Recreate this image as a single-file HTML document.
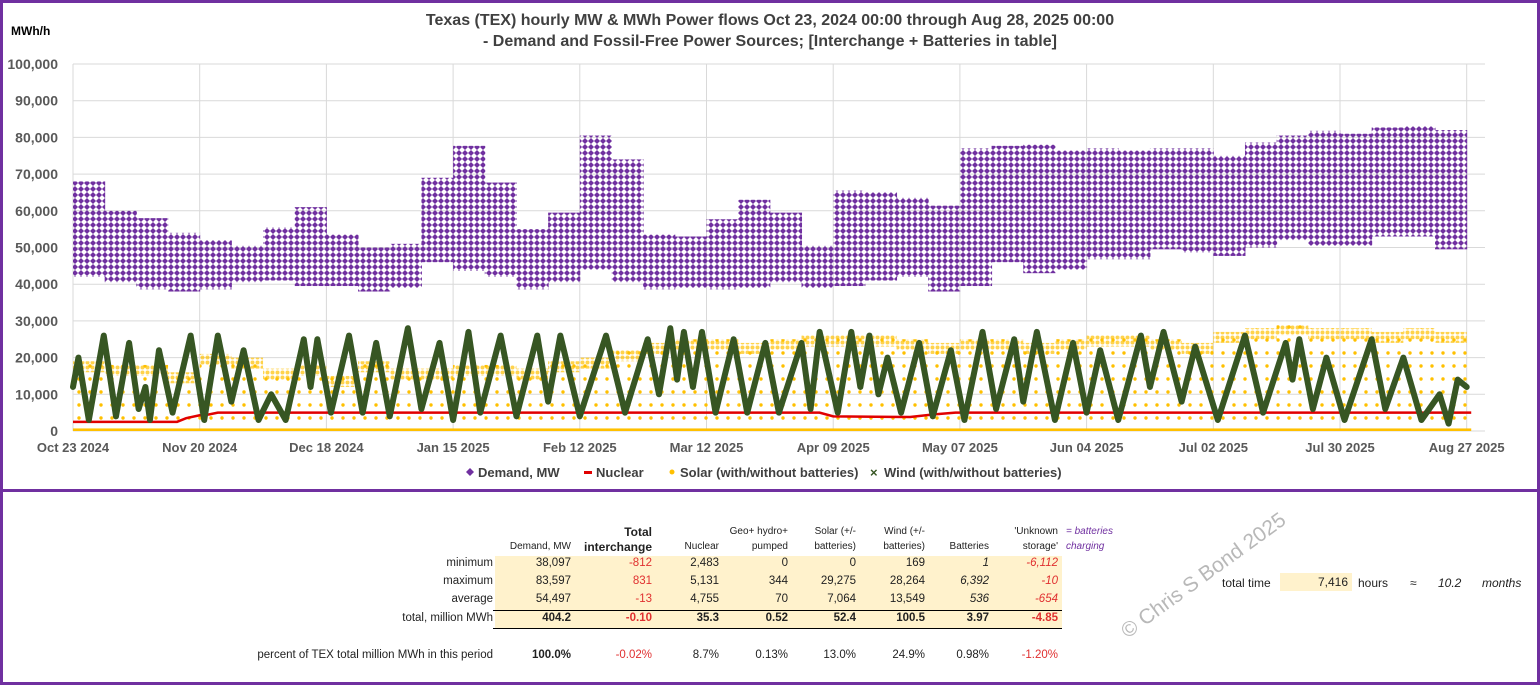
<!DOCTYPE html>
<html><head><meta charset="utf-8">
<style>
body{margin:0;width:1540px;height:685px;overflow:hidden;background:#fff;font-family:"Liberation Sans",sans-serif;}
#wrap{position:relative;width:1540px;height:685px;}
.t{position:absolute;font-size:11px;color:#222;white-space:nowrap;}
.r{text-align:right;}
.red{color:#e03030;}
.b{font-weight:bold;}
</style></head><body>
<div id="wrap">
<svg id="chart" width="1540" height="492" style="position:absolute;left:0;top:0" xmlns="http://www.w3.org/2000/svg">
<defs>
<pattern id="pd" width="6" height="6" patternUnits="userSpaceOnUse"><polygon points="3,0 6,3 3,6 0,3" fill="#7030a0"/></pattern>
<pattern id="ps" width="11" height="13" patternUnits="userSpaceOnUse"><circle cx="2" cy="2" r="1.7" fill="#ffc000"/></pattern>
<pattern id="ps2" width="5" height="5" patternUnits="userSpaceOnUse"><circle cx="2.5" cy="2.5" r="2" fill="#ffc000"/></pattern>
</defs>
<rect x="1.5" y="1.5" width="1537" height="489" fill="none" stroke="#7030a0" stroke-width="3"/>
<text x="770" y="25" text-anchor="middle" font-size="16" font-weight="bold" fill="#404040">Texas (TEX) hourly MW &amp; MWh Power flows Oct 23, 2024 00:00 through Aug 28, 2025 00:00</text>
<text x="770" y="46" text-anchor="middle" font-size="16" font-weight="bold" fill="#404040">- Demand and Fossil-Free Power Sources;  [Interchange + Batteries in table]</text>
<text x="11" y="35" font-size="12" font-weight="bold" fill="#000">MWh/h</text>
<g id="grid"></g>
<g id="marks"></g>
<g id="axes"></g>
<g id="legend">
<g><polygon points="470,468 474,472 470,476 466,472" fill="#7030a0"/><text x="478" y="477" font-size="13" font-weight="bold" fill="#404040">Demand, MW</text></g>
<g><rect x="584" y="471" width="8" height="3" fill="#e00000"/><text x="596" y="477" font-size="13" font-weight="bold" fill="#404040">Nuclear</text></g>
<g><circle cx="672" cy="472" r="2.5" fill="#ffc000"/><text x="680" y="477" font-size="13" font-weight="bold" fill="#404040">Solar (with/without batteries)</text></g>
<g><text x="870" y="477" font-size="13" font-weight="bold" fill="#375623">×</text><text x="884" y="477" font-size="13" font-weight="bold" fill="#404040">Wind (with/without  batteries)</text></g>
</g>
</svg>
<div style="position:absolute;left:0;top:490px;width:1534px;height:192px;border:3px solid #7030a0;border-top:none;"></div>
<div style="position:absolute;left:495px;top:556px;width:567px;height:73px;background:#fff2cc;"></div>
<div style="position:absolute;left:493px;top:610px;width:569px;height:1px;background:#000;"></div>
<div style="position:absolute;left:493px;top:628px;width:569px;height:1px;background:#000;"></div>
<div id="tbl"></div>
<div class="t" style="left:1222px;top:576px;font-size:12px">total time</div>
<div class="t r" style="left:1280px;top:573px;width:68px;height:18px;line-height:18px;background:#fff2cc;padding-right:4px;font-size:12px">7,416</div>
<div class="t" style="left:1358px;top:576px;font-size:12px">hours</div>
<div class="t" style="left:1410px;top:576px;font-size:12px">≈</div>
<div class="t" style="left:1438px;top:576px;font-size:12px;font-style:italic">10.2</div>
<div class="t" style="left:1482px;top:576px;font-size:12px;font-style:italic">months</div>
<div class="t" style="left:1124px;top:622px;font-size:21px;color:#b8b8b8;transform:rotate(-36deg);transform-origin:left center">© Chris S Bond  2025</div>
</div>
<script>
const NS="http://www.w3.org/2000/svg";
// ---- data ----
const yTicks=[0,10000,20000,30000,40000,50000,60000,70000,80000,90000,100000];
const xTickDays=[0,28,56,84,112,140,168,196,224,252,280,308];
const xTickLabels=["Oct 23 2024","Nov 20 2024","Dec 18 2024","Jan 15 2025","Feb 12 2025","Mar 12 2025","Apr 09 2025","May 07 2025","Jun 04 2025","Jul 02 2025","Jul 30 2025","Aug 27 2025"];
const demandLow=[42,40.5,38.6,38,38.6,40.5,41,39.5,39.5,38,39,46,43.6,42,38.6,40.5,44,40.5,38.6,39,38.6,39,40.5,39,39.5,41,42,38,39.5,46,43,44,46.8,46.8,49.5,48.6,47.7,50,52,50.5,50.5,53,53,49.5];
const demandHigh=[68,60,58,54,52,50.5,55.5,61,53.5,50,51,69,77.7,67.7,55,59.5,80.5,74,53.5,53,57.7,63,59.5,50.5,65.5,65,63.6,61.4,77,77.7,78,76.4,77,76.4,77,77,75,78.6,80.5,81.8,81,82.7,83,82];
const solarPeak=[19,18,18,16,21,20,17,18,15,19,17,17,18,18,17,19,20,22,24,25,25,24,25,26,26,26,25,24,25,25,24,25,26,26,25,24,27,28,29,28,28,27,28,27];
const windDays=[0,1.2,3.5,6.8,9.5,12.4,14.5,16,17,19,22,26,29,32,35,37.7,41,43.8,47,51,52.5,54,57,61,64,67,70,74,77,81,84,87.4,90,94.5,98,102.6,105,107.7,112,117.8,122,127,129.5,132,133.5,135,137,139,142,146,149,153,156,161,163,165,169,172,174,176,178,180,183,187,190,194,197,201,204,208,210,213,217,221,224,227,231,236,238,241,245,248,253,259,263,268,269.5,271,274,277,281,287,290,294,298,302,304,306,308];
const windVals=[12,20,3,26,4,24,6,12,3,22,5,26,3,26,8,22,3,10,3,25,12,25,5,26,5,24,4,28,6,24,3,27,5,26,4,26,8,26,4,26,5,25,10,28,14,27,12,27,5,25,5,24,5,24,6,27,5,27,12,26,10,20,5,24,4,22,3,27,6,25,8,27,3,24,5,22,3,26,12,27,8,23,3,26,5,24,14,25,6,20,3,25,6,20,3,10,2,14,12];
const nucDays=[0,23,25,28,30,32,165,168,185,190,195,309];
const nucVals=[2500,2500,3500,4300,4500,5000,5000,4000,3800,4500,5000,5000];
// ---- axes ----
const X0=73,PXDAY=126.7/28;
function xDay(d){return X0+d*PXDAY;}
function yv(v){return 431-v*0.00367;}
const WEEK=7;
const grid=document.getElementById('grid'),marks=document.getElementById('marks'),axes=document.getElementById('axes');
function mk(tag,attrs,parent){const e=document.createElementNS(NS,tag);for(const k in attrs)e.setAttribute(k,attrs[k]);parent.appendChild(e);return e;}
yTicks.forEach(v=>{
  const l=mk('line',{x1:X0,x2:1485,y1:yv(v),y2:yv(v),stroke:'#d9d9d9','stroke-width':1},grid);
  
  
  const t=mk('text',{x:58,y:yv(v)+5,'text-anchor':'end','font-size':14,'font-weight':'bold',fill:'#595959'},axes);
  t.textContent=v.toLocaleString('en-US');
  
  
});
xTickDays.forEach((d,i)=>{
  const l=mk('line',{x1:xDay(d),x2:xDay(d),y1:yv(100000),y2:yv(0),stroke:'#d9d9d9','stroke-width':1},grid);
  
  
  const t=mk('text',{x:xDay(d),y:452,'text-anchor':'middle','font-size':13,'font-weight':'bold',fill:'#595959'},axes);
  t.textContent=xTickLabels[i];
  
  
});
// demand band
demandLow.forEach((lo,i)=>{
  const hi=demandHigh[i];
  const r=mk('rect',{x:xDay(i*WEEK),width:PXDAY*WEEK+0.5,y:yv(hi*1000),height:yv(lo*1000)-yv(hi*1000),fill:'url(#pd)'},marks);
  
  
});
// solar
solarPeak.forEach((p,i)=>{
  const r=mk('rect',{x:xDay(i*WEEK),width:PXDAY*WEEK,y:yv(p*1000),height:yv(0)-yv(p*1000),fill:'url(#ps)'},marks);
  
  
  const r2=mk('rect',{x:xDay(i*WEEK),width:PXDAY*WEEK,y:yv(p*1000),height:yv((p-3)*1000)-yv(p*1000),fill:'url(#ps2)',opacity:0.7},marks);
  
  
});
const sb=mk('rect',{x:X0,y:yv(700),width:xDay(309)-X0,height:yv(0)-yv(700),fill:'#ffc000'},marks);


// nuclear
const np=mk('polyline',{points:nucDays.map((d,i)=>xDay(d)+','+yv(nucVals[i])).join(' '),fill:'none',stroke:'#e00000','stroke-width':2.5},marks);


// wind
const wp=mk('polyline',{points:windDays.map((d,i)=>xDay(d)+','+yv(windVals[i]*1000)).join(' '),fill:'none',stroke:'#375623','stroke-width':6,'stroke-linejoin':'round','stroke-linecap':'round'},marks);


// ---- table ----
const cols=[571,652,719,788,856,925,989,1058];
const rows=[["minimum",565,["38,097","-812","2,483","0","0","169","1","-6,112"]],
 ["maximum",583,["83,597","831","5,131","344","29,275","28,264","6,392","-10"]],
 ["average",601,["54,497","-13","4,755","70","7,064","13,549","536","-654"]],
 ["total, million MWh",620,["404.2","-0.10","35.3","0.52","52.4","100.5","3.97","-4.85"]],
 ["percent of TEX total million MWh in this period",657,["100.0%","-0.02%","8.7%","0.13%","13.0%","24.9%","0.98%","-1.20%"]]];
const tbl=document.getElementById('tbl');
function div(txt,css,cls){const d=document.createElement('div');d.className='t '+(cls||'');d.style.cssText=css;d.textContent=txt;tbl.appendChild(d);return d;}
rows.forEach((r,ri)=>{
  const l=div(r[0],'left:193px;width:300px;top:'+(r[1]-8)+'px;font-size:11.5px','r');
  
  
  r[2].forEach((v,ci)=>{
    let c='r';
    if(ci==1||ci==7)c+=' red';
    if(ri==3||(ri==4&&ci==0))c+=' b';
    let st='left:'+(cols[ci]-80)+'px;width:80px;top:'+(r[1]-8)+'px;font-size:11.5px;';
    if(ci==6&&ri<3||ci==7&&ri<3)st+='font-style:italic;';
    const d=div(v,st,c);
    
    
  });
});
const heads=[["","Demand, MW"],["Total","interchange"],["","Nuclear"],["Geo+ hydro+","pumped"],["Solar (+/-","batteries)"],["Wind (+/-","batteries)"],["","Batteries"],["'Unknown","storage'"]];
heads.forEach((h,ci)=>{
  const big=ci==1;
  const fs=big?'12px':'10px';
  const w='left:'+(cols[ci]-80)+'px;width:80px;';
  if(h[0]){const a=div(h[0],w+'top:'+(big?525:526)+'px;font-size:'+fs+';'+(big?'font-weight:bold':''),'r');
    
    }
  const b=div(h[1],w+'top:'+(big?540:541)+'px;font-size:'+fs+';'+(big?'font-weight:bold':''),'r');
  
  
});
const n1=div('= batteries','left:1066px;top:526px;font-size:10px;font-style:italic;color:#7030a0');


const n2=div('charging','left:1066px;top:541px;font-size:10px;font-style:italic;color:#7030a0');


</script>
</body></html>
